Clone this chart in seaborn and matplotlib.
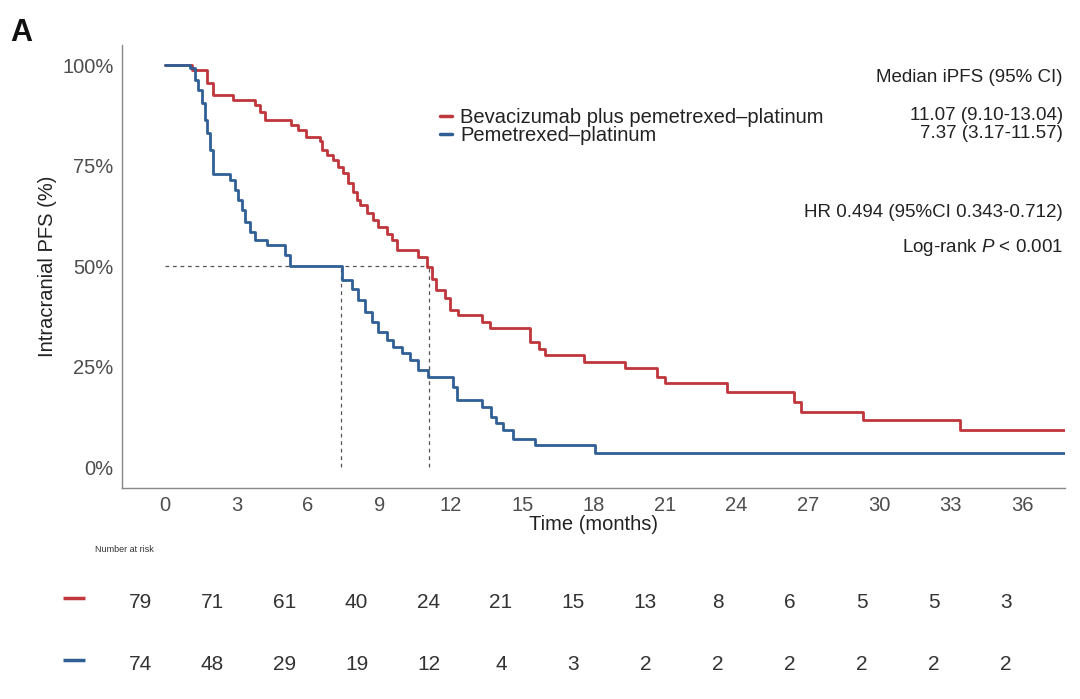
import numpy as np
import pandas as pd
import matplotlib
matplotlib.use("Agg")
import matplotlib.pyplot as plt
import seaborn as sns

# Kaplan-Meier step points (months, survival %)
bev_time = [0, 1.12, 1.76, 2.0, 2.86, 3.78, 4.0, 4.2, 5.3, 5.6, 5.9, 6.5, 6.6, 6.8, 7.07,
            7.27, 7.49, 7.70, 7.91, 8.05, 8.19, 8.47, 8.75, 8.96, 9.31, 9.52, 9.73,
            10.64, 11.0, 11.2, 11.4, 11.76, 11.97, 12.3, 13.3, 13.66, 15.34, 15.7,
            15.97, 17.6, 19.3, 20.66, 21.0, 23.6, 26.4, 26.7, 29.3, 33.4, 37.8]
bev_surv = [100, 98.8, 95.5, 92.5, 91.3, 90.0, 88.4, 86.3, 85.0, 83.8, 82.2, 81.0, 78.9,
            77.6, 76.4, 74.7, 73.1, 70.6, 68.5, 66.4, 65.2, 63.1, 61.4, 59.7, 58.1, 56.4,
            54.0, 52.3, 49.8, 46.9, 44.0, 42.0, 39.0, 37.8, 36.1, 34.5, 31.2, 29.5, 27.9,
            26.2, 24.6, 22.5, 20.8, 18.7, 16.2, 13.8, 11.7, 9.2, 9.2]

pem_time = [0, 1.05, 1.26, 1.4, 1.54, 1.68, 1.78, 1.89, 2.03, 2.73, 2.94, 3.08, 3.22,
            3.36, 3.57, 3.78, 4.27, 5.04, 5.25, 7.42, 7.84, 8.12, 8.4, 8.68, 8.96, 9.31,
            9.59, 9.94, 10.29, 10.64, 11.06, 12.1, 12.25, 13.3, 13.7, 13.9, 14.2, 14.6,
            15.55, 18.07, 37.8]
pem_surv = [100, 99.2, 96.3, 93.8, 90.5, 86.3, 83.0, 78.9, 73.0, 71.4, 68.9, 66.4, 63.9,
            61.0, 58.5, 56.5, 55.2, 52.7, 50.0, 46.5, 44.4, 41.5, 38.6, 36.1, 33.7, 31.6,
            29.9, 28.3, 26.6, 24.1, 22.5, 20.0, 16.7, 15.0, 12.5, 10.9, 9.2, 7.1, 5.5,
            3.6, 3.6]

arms = ["Bevacizumab plus pemetrexed\u2013platinum", "Pemetrexed\u2013platinum"]
arm_colors = ["#BF363C", "#2F5F94"]
medians = [11.07, 7.37]
median_ci = ["11.07 (9.10-13.04)", "7.37 (3.17-11.57)"]

risk_times = [0, 3, 6, 9, 12, 15, 18, 21, 24, 27, 30, 33, 36]
bev_risk = [79, 71, 61, 40, 24, 21, 15, 13, 8, 6, 5, 5, 3]
pem_risk = [74, 48, 29, 19, 12, 4, 3, 2, 2, 2, 2, 2, 2]

df = pd.concat([
    pd.DataFrame({"time": bev_time, "surv": bev_surv, "arm": arms[0]}),
    pd.DataFrame({"time": pem_time, "surv": pem_surv, "arm": arms[1]}),
])

sns.set_style("white")
plt.rcParams["font.family"] = ["Liberation Sans", "DejaVu Sans"]
plt.rcParams["mathtext.fontset"] = "custom"
plt.rcParams["mathtext.rm"] = "Liberation Sans"
plt.rcParams["mathtext.it"] = "Liberation Sans:italic"

W, H = 1080, 699
fig = plt.figure(figsize=(W / 100, H / 100), dpi=100)

# main KM axes (pixel box 122..1065 x 45..488)
ax = fig.add_axes([122 / W, 1 - 488 / H, (1065 - 122) / W, (488 - 45) / H])
sns.lineplot(data=df, x="time", y="surv", hue="arm", palette=arm_colors,
             drawstyle="steps-post", estimator=None, sort=True, linewidth=2.0, ax=ax)

# median guide lines
ax.plot([0, max(medians)], [50, 50], ls=(0, (3, 3)), color="#555555", lw=0.9, zorder=0)
for m in medians:
    ax.plot([m, m], [0, 50], ls=(0, (3, 3)), color="#555555", lw=0.9, zorder=0)

ax.set_xlim(-1.81, 37.8)
ax.set_ylim(-5.2, 105)
ax.set_xticks(risk_times)
ax.set_yticks([0, 25, 50, 75, 100])
ax.set_yticklabels(["0%", "25%", "50%", "75%", "100%"])
ax.tick_params(axis="both", labelsize=14.5, colors="#666666", length=3, width=0.8,
               labelcolor="#4D4D4D", pad=3)
for side in ["top", "right"]:
    ax.spines[side].set_visible(False)
for side in ["left", "bottom"]:
    ax.spines[side].set_color("#888888")
    ax.spines[side].set_linewidth(1.0)
ax.set_xlabel("Time (months)", fontsize=14.5, color="#222222", labelpad=0)
ax.set_ylabel("Intracranial PFS (%)", fontsize=14.5, color="#222222", labelpad=4)

leg = ax.legend(loc="upper left", bbox_to_anchor=((432 - 122) / (1065 - 122), (488 - 100) / (488 - 45)),
                frameon=False, fontsize=14.5, handlelength=0.6, handletextpad=0.4,
                labelspacing=-0.05, borderaxespad=0)
for line in leg.get_lines():
    line.set_linewidth(2.5)
for t in leg.get_texts():
    t.set_color("#222222")

# right side annotations
tx = 1063 / W
fig.text(tx, 1 - 77 / H, "Median iPFS (95% CI)", ha="right", va="center", fontsize=13.5, color="#222222")
fig.text(tx, 1 - 115 / H, median_ci[0], ha="right", va="center", fontsize=13.5, color="#222222")
fig.text(tx, 1 - 134 / H, median_ci[1], ha="right", va="center", fontsize=13.5, color="#222222")
fig.text(tx, 1 - 213 / H, "HR 0.494 (95%CI 0.343-0.712)", ha="right", va="center", fontsize=13.5, color="#222222")
fig.text(tx, 1 - 248 / H, "Log-rank $\\it{P}$ < 0.001", ha="right", va="center", fontsize=13.5, color="#222222")

fig.text(10 / W, 1 - 33 / H, "A", ha="left", va="center", fontsize=22, fontweight="bold", color="#111111")

# number at risk table
fig.text(95 / W, 1 - 549 / H, "Number at risk", ha="left", va="center", fontsize=6.5, color="#333333")
rx0 = (40 - 140) / 24.06
rx1 = (1065 - 140) / 24.06
axr = fig.add_axes([40 / W, 1 - 696 / H, (1065 - 40) / W, (696 - 572) / H])
axr.set_xlim(rx0, rx1)
axr.set_ylim(0, 1)
axr.axis("off")
for row_y, counts, col in [(0.75, bev_risk, arm_colors[0]), (0.25, pem_risk, arm_colors[1])]:
    axr.plot([-3.2, -2.29], [row_y + 0.04, row_y + 0.04], color=col, lw=2.5, solid_capstyle="butt")
    for t, n in zip(risk_times, counts):
        axr.text(t, row_y, str(n), ha="center", va="center", fontsize=15, color="#333333")

fig.savefig("out.png", dpi=100)
